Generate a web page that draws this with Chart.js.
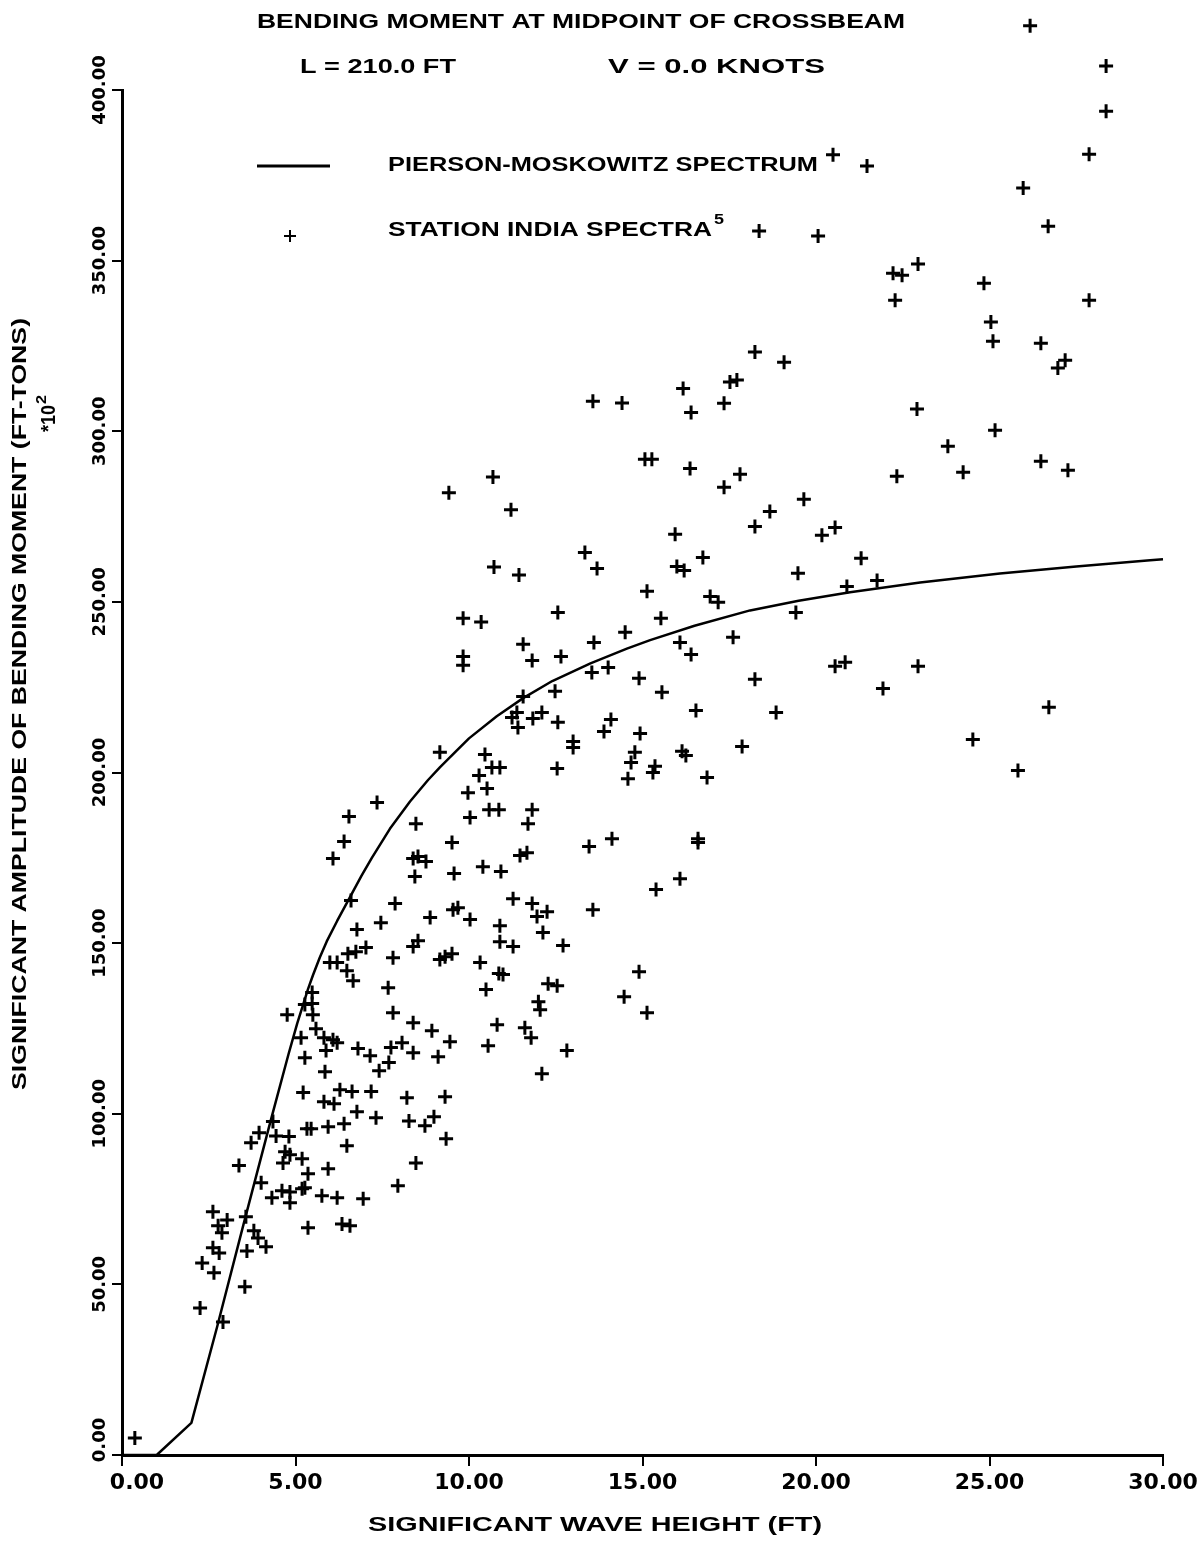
<!DOCTYPE html>
<html>
<head>
<meta charset="utf-8">
<script src="https://cdn.jsdelivr.net/npm/chart.js@4.4.1/dist/chart.umd.min.js"></script>
<style>
html, body { margin: 0; padding: 0; background: #fff; }
#wrap { width: 1202px; height: 1543px; }
</style>
</head>
<body>
<div id="wrap"><canvas id="grafica" width="1202" height="1543"></canvas></div>
<script>
// Marcas de los ejes
const xTickValues = [0, 5, 10, 15, 20, 25, 30];
const yTickValues = [0, 50, 100, 150, 200, 250, 300, 350, 400];

// Curva Pierson-Moskowitz (altura de ola, momento)
const pmHeight = [0, 1.0, 2.0, 2.74, 3.5, 4.27, 4.8, 5.05, 5.22, 5.36, 5.5, 5.7, 5.9, 6.2, 6.57, 6.9, 7.2, 7.72, 8.3, 8.82, 9.16, 9.6, 10.0, 10.8, 11.56, 12.4, 13.5, 14.55, 15.22, 16.5, 18.1, 19.5, 20.98, 23.0, 25.3, 27.5, 29.63, 30.0];
const pmMoment = [0, 0, 9.4, 37.5, 67.5, 97.4, 117.5, 126.5, 132.0, 136.5, 140.5, 145.8, 150.5, 156.5, 163.5, 169.7, 175.0, 183.5, 191.5, 197.8, 201.5, 206.0, 210.0, 216.5, 221.8, 226.8, 232.0, 236.3, 238.8, 243.0, 247.5, 250.3, 252.8, 255.7, 258.3, 260.4, 262.2, 262.5];

// Espectros Station India: [altura de ola, momento]
const stationIndia = [
    [0.37, 5.0], [2.91, 39.0], [2.25, 43.1], [3.54, 49.3], [2.31, 56.3], [2.65, 53.4], [2.62, 60.7], [2.80, 59.2],
    [3.60, 59.8], [4.15, 61.0], [2.62, 71.3], [3.03, 68.9], [2.77, 67.2], [2.88, 65.1], [3.57, 69.8], [3.80, 65.7],
    [3.92, 63.6], [5.36, 66.6], [6.34, 67.7], [6.57, 67.2], [3.37, 84.8], [4.01, 79.8], [5.36, 82.4], [5.94, 83.9],
    [8.47, 85.6], [4.32, 75.4], [4.61, 77.4], [4.84, 77.1], [4.84, 73.9], [5.27, 78.3], [5.19, 78.0], [5.76, 76.0],
    [6.20, 75.4], [6.95, 75.1], [7.95, 78.9], [4.70, 88.9], [4.84, 88.0], [5.19, 86.8], [4.64, 85.6],
    [4.76, 129.0], [5.27, 132.0], [5.48, 132.3], [5.50, 129.0], [7.81, 129.6], [8.39, 126.7], [8.93, 124.3], [9.45, 121.1],
    [5.59, 124.9], [5.16, 122.3], [5.82, 122.3], [6.08, 121.7], [6.20, 120.8], [5.88, 118.5], [6.80, 119.1], [7.15, 117.0],
    [7.75, 119.4], [8.07, 120.8], [8.39, 117.9], [9.11, 116.7], [5.27, 116.4], [7.69, 115.0], [7.41, 112.6], [5.85, 112.3],
    [5.22, 106.2], [6.28, 107.0], [6.63, 106.5], [7.18, 106.5], [8.21, 104.7], [9.31, 105.0], [5.82, 103.5], [6.11, 102.9],
    [6.77, 100.6], [7.32, 98.8], [4.35, 97.7], [8.27, 97.9], [8.73, 96.5], [8.99, 99.1], [5.45, 95.6], [5.33, 95.6],
    [5.94, 96.2], [6.40, 97.1], [3.95, 94.4], [3.72, 91.5], [4.44, 93.5], [4.81, 93.3], [9.34, 92.7], [6.48, 90.6],
    [7.35, 191.2], [6.54, 187.1], [6.40, 179.8], [6.08, 174.8], [9.97, 194.1], [10.52, 195.3], [10.58, 189.1], [10.86, 189.1],
    [11.82, 189.1], [10.03, 186.8], [11.70, 185.0], [8.47, 185.0], [9.51, 179.5], [8.39, 174.8], [8.53, 175.4], [8.76, 173.9],
    [11.47, 175.7], [11.67, 176.5], [10.40, 172.4], [10.92, 171.0], [9.57, 170.4], [8.44, 169.5], [6.60, 162.5], [7.87, 161.6],
    [11.27, 163.0], [11.82, 161.6], [12.25, 159.2], [11.96, 157.8], [9.54, 159.8], [9.68, 160.4], [8.88, 157.5], [10.03, 156.9],
    [7.46, 156.0], [6.77, 154.0], [10.89, 155.1], [12.13, 153.1], [8.53, 150.7], [8.39, 149.0], [10.89, 150.4], [11.27, 149.0],
    [12.71, 149.3], [7.03, 148.7], [6.74, 147.5], [6.51, 146.9], [7.81, 145.7], [9.16, 145.2], [9.31, 146.0], [9.51, 146.9],
    [5.99, 144.3], [6.20, 144.3], [10.32, 144.3], [6.48, 141.9], [10.86, 141.1], [10.98, 140.8], [6.66, 139.0], [7.67, 136.9],
    [10.49, 136.4], [12.28, 138.1], [12.54, 137.5], [5.48, 135.5], [12.00, 132.8], [12.05, 130.5], [10.81, 126.1], [11.61, 125.2],
    [11.79, 122.3], [10.55, 119.9], [12.82, 118.5], [12.10, 111.7],
    [9.83, 234.0], [9.83, 231.4], [11.82, 232.8], [12.65, 234.0], [16.40, 234.6], [13.54, 229.3], [14.01, 230.8], [14.90, 227.6],
    [15.56, 223.5], [12.48, 223.8], [11.56, 222.3], [11.38, 217.6], [11.24, 216.1], [12.10, 217.6], [11.84, 215.8], [16.54, 218.2],
    [14.09, 215.5], [12.56, 214.7], [11.41, 213.2], [13.89, 212.0], [14.93, 211.4], [13.00, 209.1], [13.00, 207.3], [9.16, 205.9],
    [10.46, 205.3], [14.78, 205.9], [14.67, 202.9], [16.14, 206.2], [16.25, 205.0], [10.66, 201.5], [10.89, 201.5], [12.54, 201.2],
    [15.36, 201.8], [15.30, 200.0], [10.29, 199.1], [14.58, 198.2], [16.86, 198.5], [13.46, 178.3], [14.12, 180.6], [16.60, 180.6],
    [16.60, 179.5], [16.08, 168.9], [15.39, 165.7], [13.57, 159.8], [14.90, 141.6], [14.47, 134.3], [15.13, 129.6],
    [17.81, 287.4], [19.65, 280.1], [18.67, 276.5], [18.24, 272.1], [20.17, 269.5], [20.55, 271.8], [19.48, 258.4], [20.89, 254.5],
    [19.42, 246.9], [20.55, 231.1], [20.84, 232.3], [18.24, 227.3], [18.85, 217.6], [17.87, 207.6],
    [15.07, 291.8], [15.27, 291.8], [16.37, 289.1], [17.35, 283.6], [15.94, 269.8], [13.34, 264.5], [13.69, 259.8], [16.74, 263.0],
    [15.99, 260.4], [16.20, 259.2], [15.13, 253.1], [16.95, 251.6], [17.18, 249.9], [12.56, 246.9], [15.53, 245.2], [14.50, 241.1],
    [13.60, 238.1], [17.61, 239.6], [16.08, 238.1],
    [20.49, 381.0], [18.36, 358.7], [20.06, 357.2], [16.17, 312.5], [13.57, 308.8], [14.41, 308.3], [16.40, 305.5], [10.69, 286.6],
    [9.42, 282.0], [11.21, 277.0], [10.72, 260.2], [11.44, 257.9], [9.83, 245.2], [10.35, 244.1], [11.56, 237.6],
    [22.28, 338.4], [25.04, 332.0], [25.10, 326.4], [18.24, 323.2], [19.08, 320.2], [17.52, 314.4], [17.72, 315.0], [17.35, 308.2],
    [22.91, 306.5], [25.16, 300.3], [23.80, 295.6], [24.24, 288.0], [22.33, 286.8], [21.30, 262.8], [21.76, 256.3], [22.94, 231.1],
    [21.93, 224.6], [24.52, 209.7],
    [26.17, 418.8], [28.36, 407.0], [28.36, 393.8], [27.87, 381.2], [21.47, 377.7], [25.97, 371.3], [26.69, 360.1], [22.94, 349.0],
    [22.22, 346.3], [22.48, 345.7], [24.84, 343.4], [27.87, 338.4], [26.48, 325.8], [27.18, 320.8], [26.97, 318.5], [26.48, 291.2],
    [27.26, 288.6], [26.71, 219.1], [25.82, 200.6]
];

const fuenteTexto = 'bold 21px "Liberation Sans", Arial, sans-serif';
const estiloCruz = { pointStyle: 'cross', radius: 7, rotation: 0, borderWidth: 3 };

// Escribe un texto ajustado a un ancho dado (x, y = inicio, línea media)
function fitText(ctx, text, x, y, width, angle) {
    ctx.save();
    ctx.translate(x, y);
    ctx.rotate(angle || 0);
    const w = ctx.measureText(text).width;
    ctx.scale(width / w, 1);
    ctx.textAlign = 'left';
    ctx.textBaseline = 'middle';
    ctx.fillText(text, 0, 0);
    ctx.restore();
}

// Títulos, leyenda y nombres de los ejes
const textosPlugin = {
    id: 'textos',
    afterDraw(chart) {
        const ctx = chart.ctx;
        ctx.save();
        ctx.fillStyle = '#000';
        ctx.strokeStyle = '#000';
        ctx.font = fuenteTexto;
        fitText(ctx, 'BENDING MOMENT AT MIDPOINT OF CROSSBEAM', 257, 22, 648);
        fitText(ctx, 'L = 210.0 FT', 300, 67, 156);
        fitText(ctx, 'V = 0.0 KNOTS', 608, 67, 217);

        // Leyenda
        ctx.lineWidth = 3;
        ctx.beginPath();
        ctx.moveTo(257, 166);
        ctx.lineTo(330, 166);
        ctx.stroke();
        fitText(ctx, 'PIERSON-MOSKOWITZ SPECTRUM', 388, 165, 430);
        ctx.lineWidth = 2;
        ctx.beginPath();
        ctx.moveTo(284, 236); ctx.lineTo(296, 236);
        ctx.moveTo(290, 230); ctx.lineTo(290, 242);
        ctx.stroke();
        fitText(ctx, 'STATION INDIA SPECTRA', 388, 230, 324);
        ctx.font = 'bold 14px "Liberation Sans", Arial, sans-serif';
        fitText(ctx, '5', 714, 220, 10);

        // Ejes
        ctx.font = fuenteTexto;
        fitText(ctx, 'SIGNIFICANT WAVE HEIGHT (FT)', 368, 1525, 454);
        fitText(ctx, 'SIGNIFICANT AMPLITUDE OF BENDING MOMENT (FT-TONS)', 20, 1090, 772, -Math.PI / 2);
        fitText(ctx, '*10', 49, 432, 27, -Math.PI / 2);
        ctx.font = 'bold 14px "Liberation Sans", Arial, sans-serif';
        fitText(ctx, '2', 42, 404, 9, -Math.PI / 2);
        ctx.restore();
    }
};

// Chart.js no dibuja los puntos que quedan arriba de 400; se dibujan aquí con su posición calculada
const puntosFuera = {
    id: 'puntosFuera',
    afterDatasetsDraw(chart) {
        const meta = chart.getDatasetMeta(1);
        const area = chart.chartArea;
        const ctx = chart.ctx;
        ctx.save();
        ctx.strokeStyle = '#000';
        ctx.lineWidth = 3;
        meta.data.forEach(el => {
            if (el.y >= area.top) return;
            if (Chart.helpers && Chart.helpers.drawPoint) {
                Chart.helpers.drawPoint(ctx, estiloCruz, el.x, el.y);
            } else {
                ctx.beginPath();
                ctx.moveTo(el.x - 7, el.y); ctx.lineTo(el.x + 7, el.y);
                ctx.moveTo(el.x, el.y - 7); ctx.lineTo(el.x, el.y + 7);
                ctx.stroke();
            }
        });
        ctx.restore();
    }
};

// Mueve las etiquetas "0.00" para que no se encimen
function moverEtiqueta(item, dx, dy) {
    if (!item || item._movido) return;
    const t = (item.options && item.options.translation) || item.translation;
    if (!t) return;
    t[0] += dx;
    t[1] += dy;
    item._movido = true;
}

const ajusteEtiquetas = {
    id: 'ajusteEtiquetas',
    beforeDraw(chart) {
        moverEtiqueta(chart.scales.x.getLabelItems()[0], 15, 0);
        moverEtiqueta(chart.scales.y.getLabelItems()[0], 0, -15);
    }
};

const ctx = document.getElementById('grafica').getContext('2d');
new Chart(ctx, {
    type: 'scatter',
    data: {
        datasets: [{
            label: 'PIERSON-MOSKOWITZ SPECTRUM',
            data: pmHeight.map((x, i) => ({ x: x, y: pmMoment[i] })),
            showLine: true,
            borderColor: '#000',
            borderWidth: 2.5,
            borderJoinStyle: 'round',
            pointRadius: 0,
            tension: 0,
            clip: false
        }, {
            label: 'STATION INDIA SPECTRA',
            data: stationIndia.map(p => ({ x: p[0], y: p[1] })),
            pointStyle: 'cross',
            pointRadius: 7,
            borderColor: '#000',
            borderWidth: 3,
            clip: false
        }]
    },
    options: {
        responsive: false,
        animation: false,
        devicePixelRatio: 1,
        layout: { padding: { top: 90, right: 39, bottom: 0, left: 0 } },
        plugins: {
            legend: { display: false },
            tooltip: { enabled: false }
        },
        scales: {
            x: {
                type: 'linear',
                min: 0,
                max: 30,
                afterBuildTicks: s => { s.ticks = xTickValues.map(v => ({ value: v })); },
                afterFit: s => { s.height = 88; },
                border: { display: true, color: '#000', width: 3 },
                grid: { drawOnChartArea: false, drawTicks: true, tickLength: 11, color: '#000', lineWidth: 2 },
                ticks: {
                    color: '#000',
                    padding: 4,
                    font: { family: 'DejaVu Sans', weight: 'bold', size: 22 },
                    callback: v => Number(v).toFixed(2)
                }
            },
            y: {
                type: 'linear',
                min: 0,
                max: 400,
                afterBuildTicks: s => { s.ticks = yTickValues.map(v => ({ value: v })); },
                afterFit: s => { s.width = 122; },
                border: { display: true, color: '#000', width: 3 },
                grid: { drawOnChartArea: false, drawTicks: true, tickLength: 10, color: '#000', lineWidth: 2 },
                ticks: {
                    color: '#000',
                    minRotation: 90,
                    maxRotation: 90,
                    crossAlign: 'center',
                    padding: -23,
                    font: { family: 'DejaVu Sans', weight: 'bold', size: 18 },
                    callback: v => Number(v).toFixed(2)
                }
            }
        }
    },
    plugins: [ajusteEtiquetas, puntosFuera, textosPlugin]
});
</script>
</body>
</html>
